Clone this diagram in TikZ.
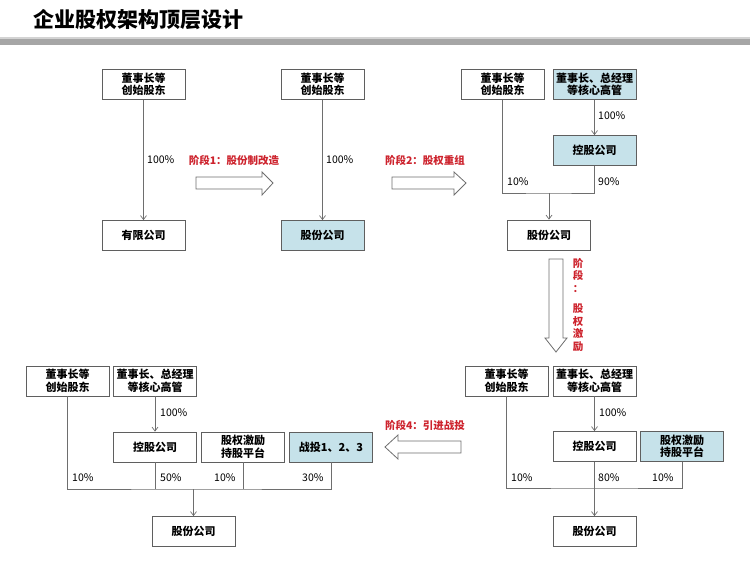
\documentclass[tikz,border=0pt]{standalone}
\usepackage{fontspec}
\setmainfont{Noto Sans CJK SC}
\usetikzlibrary{arrows.meta,positioning,calc}
\definecolor{boxgray}{RGB}{95,95,95}
\definecolor{linegray}{RGB}{110,110,110}
\definecolor{holdblue}{RGB}{198,226,234}
\definecolor{stagered}{RGB}{205,35,45}
\definecolor{bargray}{RGB}{166,166,166}
\tikzset{
    box/.style={rectangle, draw=boxgray, fill=#1, line width=0.7pt, minimum width=83pt,
                minimum height=30pt, inner sep=1pt, align=center,
                font=\fontsize{11}{12.5}\selectfont\bfseries},
    box/.default=white,
    pct/.style={anchor=west, inner sep=0pt, font=\fontsize{10.5}{12}\selectfont},
    stagelbl/.style={text=stagered, inner sep=0pt, font=\fontsize{10.5}{12}\selectfont\bfseries},
    link/.style={draw=linegray, line width=0.7pt},
    arr/.style={link, -{Straight Barb[length=4pt,width=6pt]}},
    bigarr/.style={draw=linegray, fill=white, line width=0.8pt},
}

\begin{document}
\begin{tikzpicture}[x=1pt, y=-1pt]
    \useasboundingbox (0,0) rectangle (750,577);
    % Title
    \node[anchor=west, inner sep=0pt, font=\fontsize{21}{23}\selectfont\bfseries] (title) at (33,20) {企业股权架构顶层设计};
    \fill[bargray!50] (0,37) rectangle (750,39);
    \fill[bargray] (0,39) rectangle (750,45);

    % Stage 0: limited company
    \node[box]          (s1own) at (143.5,84.5) {董事长等\\创始股东};
    \node[box]          (s1co)  at (143.5,235.5) {有限公司};
    \draw[arr] (s1own) -- (s1co);
    \node[pct] (s1p) at (147,160) {100\%};

    % Stage 1: joint-stock reform
    \node[stagelbl] (st1) at (234,160) {阶段1：股份制改造};
    \draw[bigarr] (196,177) -- (262,177) -- (262,172) -- (273,183) -- (262,195) -- (262,189) -- (196,189) -- cycle;
    \node[box]          (s2own) at (322.5,84.5) {董事长等\\创始股东};
    \node[box=holdblue] (s2co)  at (322.5,235.5) {股份公司};
    \draw[arr] (s2own) -- (s2co);
    \node[pct] (s2p) at (326,160) {100\%};

    % Stage 2: restructuring
    \node[stagelbl] (st2) at (425,160) {阶段2：股权重组};
    \draw[bigarr] (392,177) -- (454,177) -- (454,172) -- (466,183) -- (454,195) -- (454,189) -- (392,189) -- cycle;
    \node[box]          (s3own)  at (502.5,84.5) {董事长等\\创始股东};
    \node[box=holdblue] (s3mgr)  at (594.5,84.5) {董事长、总经理\\等核心高管};
    \node[box=holdblue] (s3hold) at (594.5,150.5) {控股公司};
    \node[box]          (s3co)   at (549,235) {股份公司};
    \coordinate (s3j) at (549,193);
    \draw[arr] (s3mgr) -- (s3hold);
    \draw[link] (s3own.south) |- (s3j) -| (s3hold.south);
    \draw[arr] (s3j) -- (s3co.north);
    \node[pct] (s3p1) at (598,116) {100\%};
    \node[pct] (s3p2) at (507,182) {10\%};
    \node[pct] (s3p3) at (598,182) {90\%};

    % Stage 3: equity incentive
    \draw[bigarr] (549,259) -- (563,259) -- (563,338) -- (567,338) -- (556,352) -- (545,338) -- (549,338) -- cycle;
    \node[stagelbl, align=center, font=\fontsize{10.5}{12.5}\selectfont\bfseries, anchor=north] (st3) at (578,258)
        {阶\\段\\：\\[8pt]股\\权\\激\\励};
    \node[box]          (s4own)  at (506.5,381) {董事长等\\创始股东};
    \node[box]          (s4mgr)  at (594.5,381) {董事长、总经理\\等核心高管};
    \node[box]          (s4hold) at (594.5,446.5) {控股公司};
    \node[box=holdblue] (s4plat) at (682,446.5) {股权激励\\持股平台};
    \node[box]          (s4co)   at (594.5,531.5) {股份公司};
    \coordinate (s4j) at (594.5,488);
    \draw[arr] (s4mgr) -- (s4hold);
    \draw[link] (s4own.south) |- (s4j) -| (s4plat.south);
    \draw[link] (s4hold.south) -- (s4j);
    \draw[arr] (s4j) -- (s4co.north);
    \node[pct] (s4p1) at (599,413) {100\%};
    \node[pct] (s4p2) at (511,478) {10\%};
    \node[pct] (s4p3) at (598,478) {80\%};
    \node[pct] (s4p4) at (652,478) {10\%};

    % Stage 4: strategic investors
    \node[stagelbl] (st4) at (425,425) {阶段4：引进战投};
    \draw[bigarr] (461,441) -- (398,441) -- (398,435) -- (385,447) -- (398,459) -- (398,453) -- (461,453) -- cycle;
    \node[box]          (s5own)  at (67.5,381) {董事长等\\创始股东};
    \node[box]          (s5mgr)  at (155,381) {董事长、总经理\\等核心高管};
    \node[box]          (s5hold) at (155,447) {控股公司};
    \node[box]          (s5plat) at (243,447) {股权激励\\持股平台};
    \node[box=holdblue] (s5inv)  at (331,447) {战投1、2、3};
    \node[box]          (s5co)   at (193.5,531.5) {股份公司};
    \coordinate (s5j) at (193.5,489);
    \draw[arr] (s5mgr) -- (s5hold);
    \draw[link] (s5own.south) |- (s5j) -| (s5inv.south);
    \draw[link] (s5hold.south) -- (s5hold.south |- s5j);
    \draw[link] (s5plat.south) -- (s5plat.south |- s5j);
    \draw[arr] (s5j) -- (s5co.north);
    \node[pct] (s5p1) at (160,413) {100\%};
    \node[pct] (s5p2) at (72,478) {10\%};
    \node[pct] (s5p3) at (160,478) {50\%};
    \node[pct] (s5p4) at (214,478) {10\%};
    \node[pct] (s5p5) at (302,478) {30\%};
\end{tikzpicture}
\end{document}
